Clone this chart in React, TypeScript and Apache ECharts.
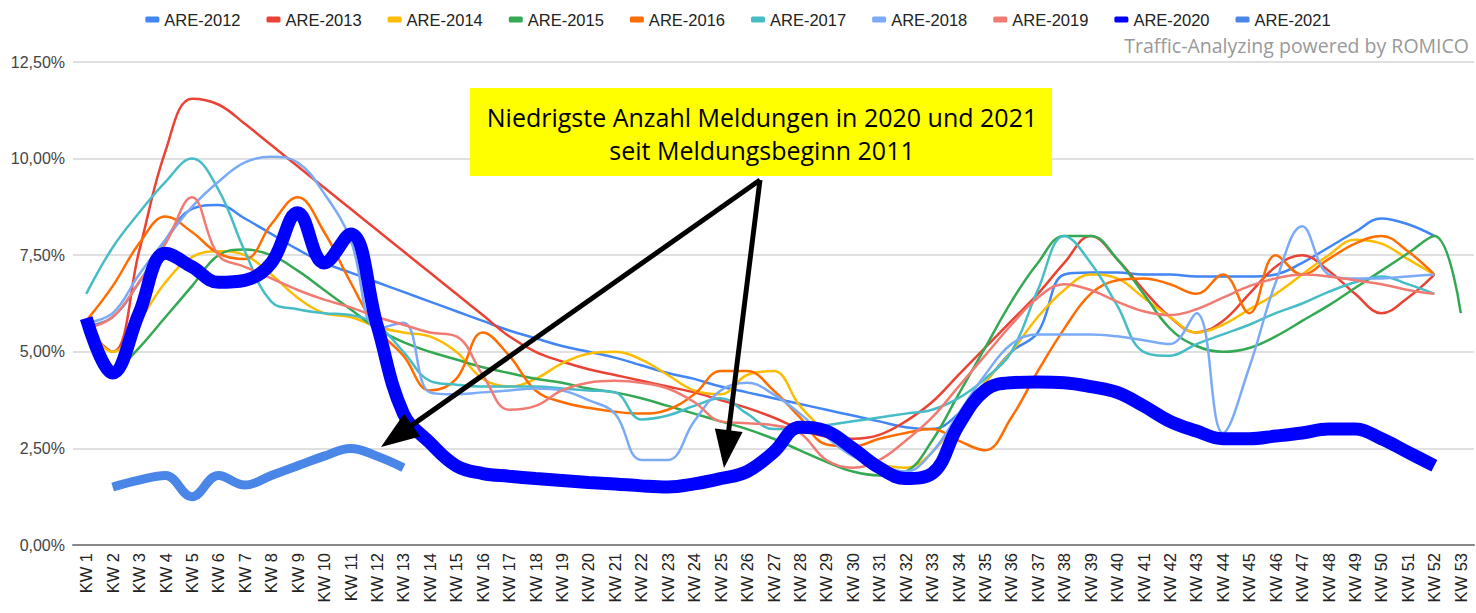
import React, { useEffect, useRef } from "react";
import * as echarts from "echarts";

const weeks = [
  "KW 1", "KW 2", "KW 3", "KW 4", "KW 5", "KW 6", "KW 7", "KW 8", "KW 9", "KW 10",
  "KW 11", "KW 12", "KW 13", "KW 14", "KW 15", "KW 16", "KW 17", "KW 18", "KW 19", "KW 20",
  "KW 21", "KW 22", "KW 23", "KW 24", "KW 25", "KW 26", "KW 27", "KW 28", "KW 29", "KW 30",
  "KW 31", "KW 32", "KW 33", "KW 34", "KW 35", "KW 36", "KW 37", "KW 38", "KW 39", "KW 40",
  "KW 41", "KW 42", "KW 43", "KW 44", "KW 45", "KW 46", "KW 47", "KW 48", "KW 49", "KW 50",
  "KW 51", "KW 52", "KW 53",
];

const yTicks = [0, 2.5, 5, 7.5, 10, 12.5];

const are2012 = [5.65, 5.9, 6.8, 7.9, 8.7, 8.8, 8.45, 8.05, 7.65, 7.3, 7.05, 6.8, 6.55, 6.3, 6.05, 5.8, 5.55, 5.35, 5.15, 5.0, 4.85, 4.65, 4.45, 4.3, 4.1, 3.95, 3.8, 3.65, 3.5, 3.35, 3.2, 3.05, 3.0, 3.4, 4.2, 5.0, 5.5, 7.0, 7.05, 7.05, 7.0, 7.0, 6.95, 6.95, 6.95, 7.0, 7.3, 7.7, 8.1, 8.45, 8.3, 8.0, null];
const are2013 = [5.6, 5.0, 7.6, 10.2, 11.55, 11.4, 10.9, 10.35, 9.8, 9.25, 8.7, 8.15, 7.6, 7.05, 6.5, 5.95, 5.4, 5.0, 4.75, 4.55, 4.4, 4.25, 4.1, 3.95, 3.75, 3.55, 3.3, 3.0, 2.8, 2.75, 2.85, 3.2, 3.7, 4.4, 5.1, 5.8, 6.5, 7.3, 8.0, 7.4, 6.6, 5.9, 5.5, 5.8, 6.5, 7.2, 7.5, 7.1, 6.5, 6.0, 6.4, 7.0, null];
const are2014 = [5.7, 5.0, 5.8, 6.8, 7.45, 7.6, 7.5, 7.0, 6.4, 6.0, 5.9, 5.65, 5.5, 5.4, 5.0, 4.3, 4.1, 4.3, 4.7, 4.95, 5.0, 4.8, 4.4, 4.0, 3.9, 4.4, 4.5, 3.6, 2.9, 2.4, 2.1, 2.0, 2.4, 3.3, 4.2, 5.0, 5.9, 6.6, 7.0, 6.9, 6.4, 5.9, 5.5, 5.7, 6.1, 6.5, 7.0, 7.5, 7.9, 7.8, 7.4, 7.0, null];
const are2015 = [null, 4.4, 5.1, 5.9, 6.7, 7.5, 7.65, 7.5, 7.1, 6.6, 6.1, 5.6, 5.25, 5.0, 4.8, 4.6, 4.45, 4.3, 4.2, 4.05, 3.95, 3.8, 3.6, 3.4, 3.2, 3.0, 2.75, 2.45, 2.15, 1.9, 1.8, 1.9, 2.7, 3.9, 5.1, 6.3, 7.3, 8.0, 8.0, 7.4, 6.5, 5.6, 5.15, 5.0, 5.1, 5.4, 5.8, 6.2, 6.65, 7.1, 7.55, 8.0, 6.0];
const are2016 = [5.8, 6.7, 7.8, 8.5, 8.1, 7.55, 7.4, 8.3, 9.0, 8.1, 6.8, 5.6, 4.9, 4.0, 4.3, 5.5, 4.9, 4.0, 3.7, 3.55, 3.45, 3.4, 3.5, 3.9, 4.5, 4.5, 4.0, 3.3, 2.6, 2.55, 2.75, 2.9, 3.0, 2.7, 2.45, 3.3, 4.5, 5.6, 6.5, 6.85, 6.9, 6.75, 6.5, 7.0, 6.0, 7.5, 7.0, 7.4, 7.8, 8.0, 7.6, 7.0, null];
const are2017 = [6.5, 7.7, 8.6, 9.4, 10.0, 9.2, 7.6, 6.3, 6.1, 6.0, 5.95, 5.7, 5.0, 4.25, 4.15, 4.1, 4.1, 4.1, 4.05, 4.0, 3.95, 3.25, 3.35, 3.6, 3.8, 3.4, 3.0, 3.0, 3.1, 3.2, 3.3, 3.4, 3.5, 3.8, 4.3, 5.0, 6.6, 8.0, 7.3, 6.2, 5.0, 4.9, 5.2, 5.45, 5.7, 6.0, 6.25, 6.55, 6.8, 6.95, 6.75, 6.5, null];
const are2018 = [5.75, 6.0, 7.0, 7.9, 8.75, 9.4, 9.9, 10.05, 9.9, 9.1, 7.9, 5.6, 5.75, 3.95, 3.9, 3.95, 4.0, 4.05, 4.0, 3.75, 3.4, 2.2, 2.2, 3.2, 4.0, 4.2, 3.9, 3.4, 2.8, 2.3, 2.05, 1.9, 2.4, 3.4, 4.4, 5.2, 5.45, 5.45, 5.45, 5.4, 5.3, 5.2, 6.0, 2.9, 4.6, 6.8, 8.25, 7.0, 6.9, 6.9, 6.95, 7.0, null];
const are2019 = [5.6, 5.9, 6.8, 7.8, 9.0, 7.5, 7.2, 6.9, 6.6, 6.35, 6.15, 5.9, 5.7, 5.5, 5.4, 4.4, 3.5, 3.6, 4.0, 4.2, 4.25, 4.2, 4.05, 3.7, 3.2, 3.15, 3.1, 2.9, 2.2, 2.0, 2.2, 2.7, 3.3, 4.1, 4.9, 5.7, 6.4, 6.75, 6.6, 6.3, 6.05, 5.95, 6.1, 6.4, 6.7, 6.9, 7.0, 6.95, 6.85, 6.75, 6.6, 6.5, null];
const are2020 = [5.87, 4.45, 6.0, 7.55, 7.2, 6.8, 6.85, 7.3, 8.6, 7.3, 8.05, 5.7, 3.4, 2.65, 2.05, 1.85, 1.78, 1.72, 1.67, 1.62, 1.58, 1.53, 1.5, 1.58, 1.72, 1.9, 2.4, 3.05, 2.95, 2.5, 2.0, 1.72, 1.85, 3.1, 4.0, 4.2, 4.22, 4.2, 4.1, 3.95, 3.6, 3.2, 2.95, 2.75, 2.75, 2.82, 2.9, 3.0, 3.0, 2.75, 2.4, 2.05, null];
const are2021 = [null, 1.5, 1.68, 1.8, 1.25, 1.8, 1.55, 1.8, 2.05, 2.3, 2.5, 2.3, 2.0, null, null, null, null, null, null, null, null, null, null, null, null, null, null, null, null, null, null, null, null, null, null, null, null, null, null, null, null, null, null, null, null, null, null, null, null, null, null, null, null];

const seriesNames = ["ARE-2012", "ARE-2013", "ARE-2014", "ARE-2015", "ARE-2016", "ARE-2017", "ARE-2018", "ARE-2019", "ARE-2020", "ARE-2021"];
const seriesData = [are2012, are2013, are2014, are2015, are2016, are2017, are2018, are2019, are2020, are2021];
const seriesColors = ["#4285F4", "#EA4335", "#FBBC04", "#34A853", "#FF6D01", "#46BDC6", "#7BAAF7", "#F07B72", "#0000FF", "#4A86E8"];
const seriesWidths = [2.5, 2.5, 2.5, 2.5, 2.5, 2.5, 2.5, 2.5, 13, 9];

const noteText = "Niedrigste Anzahl Meldungen in 2020 und 2021\nseit Meldungsbeginn 2011";
const creditText = "Traffic-Analyzing powered by ROMICO";

function arrow(x1: number, y1: number, x2: number, y2: number) {
  const dx = x2 - x1;
  const dy = y2 - y1;
  const len = Math.sqrt(dx * dx + dy * dy);
  const ux = dx / len;
  const uy = dy / len;
  const headLen = 38;
  const half = 14;
  const bx = x2 - ux * headLen;
  const by = y2 - uy * headLen;
  const px = -uy;
  const py = ux;
  return [
    {
      type: "line",
      shape: { x1, y1, x2: bx + ux * 4, y2: by + uy * 4 },
      style: { stroke: "#000", lineWidth: 5 },
      z: 100,
    },
    {
      type: "polygon",
      shape: {
        points: [
          [x2, y2],
          [bx + px * half, by + py * half],
          [bx - px * half, by - py * half],
        ],
      },
      style: { fill: "#000" },
      z: 100,
    },
  ];
}

export default function App() {
  const ref = useRef<HTMLDivElement>(null);

  useEffect(() => {
    document.body.style.margin = "0";
    if (!ref.current) return;
    const chart = echarts.init(ref.current, null, { renderer: "svg" });

    const series = seriesNames.map((name, i) => ({
      name,
      type: "line",
      data: seriesData[i],
      smooth: 0.4,
      showSymbol: false,
      symbol: "none",
      color: seriesColors[i],
      lineStyle: { width: seriesWidths[i], color: seriesColors[i] },
      z: i >= 8 ? 3 : 2,
      emphasis: { disabled: true },
    }));

    chart.setOption({
      animation: false,
      backgroundColor: "#ffffff",
      textStyle: { fontFamily: "Liberation Sans, Arial, sans-serif" },
      legend: {
        top: 6,
        left: "center",
        icon: "roundRect",
        itemWidth: 14,
        itemHeight: 6,
        itemGap: 26,
        data: seriesNames,
        textStyle: { fontSize: 16.5, color: "#222", fontFamily: "Liberation Sans, Arial, sans-serif" },
      },
      grid: { left: 73, right: 2, top: 62, bottom: 68 },
      xAxis: {
        type: "category",
        data: weeks,
        boundaryGap: true,
        axisLine: { show: true, lineStyle: { color: "#888", width: 2 } },
        axisTick: { show: false },
        axisLabel: {
          rotate: 90,
          interval: 0,
          margin: 8,
          fontSize: 16.5,
          color: "#222",
          fontFamily: "Liberation Sans, Arial, sans-serif",
        },
      },
      yAxis: {
        type: "value",
        min: yTicks[0],
        max: yTicks[yTicks.length - 1],
        interval: 2.5,
        axisLine: { show: false },
        axisTick: { show: false },
        splitLine: { lineStyle: { color: "#d6d6d6", width: 1.5 } },
        axisLabel: {
          margin: 8,
          fontSize: 16,
          color: "#444",
          fontFamily: "Liberation Sans, Arial, sans-serif",
          formatter: (v: number) => v.toFixed(2).replace(".", ",") + "%",
        },
      },
      series,
      graphic: [
        {
          type: "text",
          right: 7,
          top: 35,
          style: {
            text: creditText,
            fill: "#999",
            fontSize: 19.5,
            fontFamily: "Open Sans, sans-serif",
          },
        },
        {
          type: "rect",
          shape: { x: 470, y: 88, width: 582, height: 88 },
          style: { fill: "#ffff00" },
          z: 90,
        },
        {
          type: "text",
          x: 762,
          y: 133,
          style: {
            text: noteText,
            fill: "#000",
            fontSize: 25,
            lineHeight: 33,
            fontFamily: "Open Sans, sans-serif",
            align: "center",
            verticalAlign: "middle",
          },
          z: 91,
        },
        ...arrow(760, 180, 381, 447),
        ...arrow(760, 180, 724, 468),
      ],
    });

    return () => chart.dispose();
  }, []);

  return <div ref={ref} style={{ width: 1476, height: 613 }} />;
}
